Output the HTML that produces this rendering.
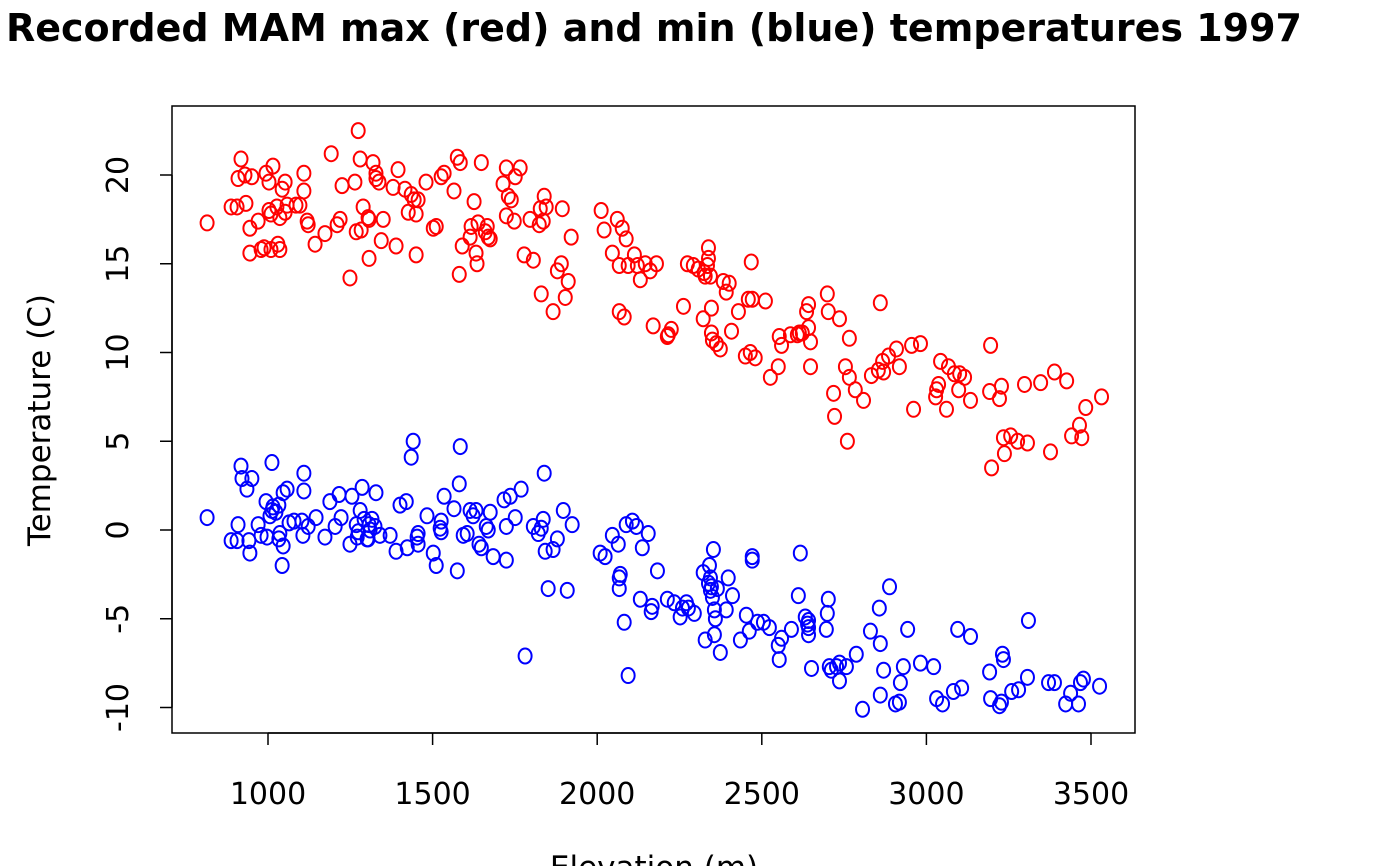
<!DOCTYPE html>
<html><head><meta charset="utf-8"><style>
html,body{margin:0;padding:0;background:#fff;overflow:hidden;}
svg{display:block;font-family:"DejaVu Sans","Liberation Sans",sans-serif;}
</style></head><body>
<svg id="chart" width="1400" height="866" viewBox="0 0 1400 866" xmlns="http://www.w3.org/2000/svg">
<text x="654" y="41" text-anchor="middle" font-size="38" font-weight="bold">Recorded MAM max (red) and min (blue) temperatures 1997</text>
<rect x="172" y="106" width="963" height="627" fill="none" stroke="#000" stroke-width="1.5"/>
<text transform="translate(50,420) rotate(-90)" text-anchor="middle" font-size="31">Temperature (C)</text>
<text x="654" y="878" text-anchor="middle" font-size="31">Elevation (m)</text>
<g id="axes"></g>
<g id="marks"></g>
</svg>
<script>
const xTicks=[1000,1500,2000,2500,3000,3500];
const yTicks=[-10,-5,0,5,10,15,20];
const maxElev=[815,888,906,918,909,930,933,945,945,951,970,979,988,994,1003,1003,1009,1009,1015,1027,1030,1036,1043,1052,1052,1036,1058,1085,1097,1109,1109,1119,1122,1143,1173,1192,1210,1219,1225,1249,1264,1268,1274,1280,1283,1289,1304,1307,1307,1319,1328,1328,1337,1344,1350,1380,1389,1395,1416,1426,1435,1444,1450,1456,1450,1480,1502,1511,1526,1535,1565,1575,1581,1584,1590,1614,1617,1626,1632,1635,1638,1648,1660,1666,1669,1675,1714,1724,1724,1730,1739,1748,1751,1766,1778,1796,1806,1824,1827,1830,1836,1839,1845,1866,1879,1891,1894,1903,1912,1921,2012,2021,2046,2061,2067,2067,2076,2082,2088,2094,2113,2122,2131,2146,2161,2170,2180,2213,2216,2225,2262,2274,2292,2307,2322,2325,2328,2335,2338,2338,2344,2347,2347,2350,2362,2374,2383,2392,2401,2408,2429,2459,2450,2465,2468,2471,2480,2511,2526,2550,2553,2560,2587,2608,2614,2623,2636,2648,2642,2642,2648,2699,2702,2718,2721,2736,2754,2760,2766,2766,2784,2809,2833,2854,2860,2867,2870,2885,2909,2918,2955,2961,2982,3031,3028,3037,3043,3061,3067,3085,3098,3101,3116,3134,3195,3192,3198,3222,3228,3237,3234,3256,3277,3298,3307,3347,3377,3389,3426,3441,3465,3472,3484,3532];
const maxTemp=[17.3,18.2,18.2,20.9,19.8,20.0,18.4,17.0,15.6,19.9,17.4,15.8,15.9,20.1,19.6,18.0,17.8,15.8,20.5,18.2,16.1,17.6,19.2,19.6,17.9,15.8,18.3,18.3,18.3,20.1,19.1,17.4,17.2,16.1,16.7,21.2,17.2,17.5,19.4,14.2,19.6,16.8,22.5,20.9,16.9,18.2,17.6,15.3,17.5,20.7,20.1,19.8,19.6,16.3,17.5,19.3,16.0,20.3,19.2,17.9,18.9,18.6,17.8,18.6,15.5,19.6,17.0,17.1,19.9,20.1,19.1,21.0,14.4,20.7,16.0,16.5,17.1,18.5,15.6,15.0,17.3,20.7,16.8,17.1,16.5,16.4,19.5,20.4,17.7,18.8,18.6,17.4,19.9,20.4,15.5,17.5,15.2,17.2,18.1,13.3,17.4,18.8,18.2,12.3,14.6,15.0,18.1,13.1,14.0,16.5,18.0,16.9,15.6,17.5,14.9,12.3,17.0,12.0,16.4,14.9,15.5,14.9,14.1,15.0,14.6,11.5,15.0,10.9,11.0,11.3,12.6,15.0,14.9,14.7,11.9,14.5,14.3,14.9,15.3,15.9,14.3,11.1,12.5,10.7,10.5,10.2,14.0,13.4,13.9,11.2,12.3,13.0,9.8,10.0,15.1,13.0,9.7,12.9,8.6,9.2,10.9,10.4,11.0,11.0,11.1,11.1,12.3,9.2,12.7,11.4,10.6,13.3,12.3,7.7,6.4,11.9,9.2,5.0,8.6,10.8,7.9,7.3,8.7,9.0,12.8,9.5,8.9,9.8,10.2,9.2,10.4,6.8,10.5,7.9,7.5,8.2,9.5,6.8,9.2,8.8,7.9,8.8,8.6,7.3,10.4,7.8,3.5,7.4,8.1,4.3,5.2,5.3,5.0,8.2,4.9,8.3,4.4,8.9,8.4,5.3,5.9,5.2,6.9,7.5];
const minElev=[815,888,906,909,918,921,936,945,942,951,970,979,994,997,1006,1012,1012,1015,1024,1033,1033,1036,1043,1046,1046,1058,1064,1079,1103,1106,1109,1109,1122,1146,1173,1188,1204,1216,1222,1249,1255,1268,1271,1274,1280,1286,1292,1301,1304,1307,1310,1316,1325,1328,1340,1371,1389,1401,1420,1423,1435,1441,1453,1456,1456,1483,1502,1511,1523,1526,1526,1535,1565,1575,1584,1581,1593,1605,1614,1623,1632,1641,1648,1663,1669,1675,1684,1717,1724,1724,1736,1751,1769,1781,1806,1821,1830,1836,1839,1842,1851,1866,1879,1897,1909,1924,2009,2024,2046,2064,2067,2067,2070,2082,2088,2094,2107,2119,2137,2131,2155,2164,2167,2183,2213,2234,2252,2259,2271,2277,2295,2322,2328,2338,2341,2344,2344,2347,2350,2353,2356,2356,2359,2365,2374,2392,2398,2411,2435,2453,2462,2471,2471,2487,2505,2523,2550,2553,2560,2590,2611,2617,2632,2639,2642,2642,2642,2651,2696,2699,2702,2705,2711,2727,2736,2736,2757,2787,2806,2830,2857,2860,2860,2870,2888,2906,2918,2921,2930,2943,2982,3022,3031,3049,3082,3095,3107,3134,3192,3195,3222,3228,3231,3234,3259,3280,3307,3310,3371,3389,3423,3438,3462,3468,3477,3526];
const minTemp=[0.7,-0.6,-0.6,0.3,3.6,2.9,2.3,-1.3,-0.6,2.9,0.3,-0.3,1.6,-0.4,0.8,3.8,1.1,1.3,1.0,1.4,-0.5,-0.2,-2.0,2.1,-0.9,2.3,0.4,0.5,0.5,-0.3,3.2,2.2,0.2,0.7,-0.4,1.6,0.2,2.0,0.7,-0.8,1.9,0.3,-0.4,-0.1,1.1,2.4,0.6,-0.5,-0.5,0.3,0.0,0.6,0.2,2.1,-0.3,-0.3,-1.2,1.4,1.6,-1.0,4.1,5.0,-0.4,-0.8,-0.2,0.8,-1.3,-2.0,0.1,-0.1,0.5,1.9,1.2,-2.3,4.7,2.6,-0.3,-0.2,1.1,0.8,1.1,-0.8,-1.0,0.2,0.0,1.0,-1.5,1.7,0.2,-1.7,1.9,0.7,2.3,-7.1,0.2,-0.2,0.1,0.6,3.2,-1.2,-3.3,-1.1,-0.5,1.1,-3.4,0.3,-1.3,-1.5,-0.3,-0.8,-2.7,-3.3,-2.5,-5.2,0.3,-8.2,0.5,0.2,-1.0,-3.9,-0.2,-4.6,-4.3,-2.3,-3.9,-4.1,-4.9,-4.4,-4.1,-4.4,-4.7,-2.4,-6.2,-3.0,-2.0,-3.4,-2.7,-3.2,-3.8,-1.1,-4.5,-5.9,-5.0,-3.3,-6.9,-4.5,-2.7,-3.7,-6.2,-4.8,-5.7,-1.5,-1.7,-5.2,-5.2,-5.5,-6.5,-7.3,-6.1,-5.6,-3.7,-1.3,-4.9,-5.3,-5.5,-5.9,-5.1,-7.8,-5.6,-4.7,-3.9,-7.7,-7.9,-7.7,-8.5,-7.5,-7.7,-7.0,-10.1,-5.7,-4.4,-6.4,-9.3,-7.9,-3.2,-9.8,-9.7,-8.6,-7.7,-5.6,-7.5,-7.7,-9.5,-9.8,-9.1,-5.6,-8.9,-6.0,-8.0,-9.5,-9.9,-9.7,-7.0,-7.3,-9.1,-9.0,-8.3,-5.1,-8.6,-8.6,-9.8,-9.2,-9.8,-8.6,-8.4,-8.8];

const NS="http://www.w3.org/2000/svg";
function xScale(v){return 268+(v-1000)*(1091-268)/2500;}
function yScale(v){return 530-v*(530-175)/20;}
const axes=document.getElementById('axes');
const marks=document.getElementById('marks');
function mk(tag,attrs,parent){const e=document.createElementNS(NS,tag);for(const k in attrs)e.setAttribute(k,attrs[k]);parent.appendChild(e);return e;}

mk('line',{x1:xScale(xTicks[0]),x2:xScale(xTicks[xTicks.length-1]),y1:733,y2:733,stroke:'#000','stroke-width':1.5},axes);
xTicks.forEach(t=>{
  const x=xScale(t);
  const l=mk('line',{x1:x,x2:x,y1:733,y2:745,stroke:'#000','stroke-width':1.5},axes);
  
  
  const tx=mk('text',{x:x,y:804,'text-anchor':'middle','font-size':'30'},axes);
  tx.textContent=t;
  
  
});
mk('line',{x1:172,x2:172,y1:yScale(yTicks[0]),y2:yScale(yTicks[yTicks.length-1]),stroke:'#000','stroke-width':1.5},axes);
yTicks.forEach(t=>{
  const y=yScale(t);
  const l=mk('line',{x1:160,x2:172,y1:y,y2:y,stroke:'#000','stroke-width':1.5},axes);
  
  
  const tx=mk('text',{transform:'translate(128,'+y+') rotate(-90)','text-anchor':'middle','font-size':'30'},axes);
  tx.textContent=t;
  
  
});
function drawSeries(el,tp,color,name){
  for(let i=0;i<el.length;i++){
    const c=mk('ellipse',{cx:xScale(el[i]),cy:yScale(tp[i]),rx:6.5,ry:7.5,fill:'none',stroke:color,'stroke-width':2},marks);
    
    
  }
}
drawSeries(maxElev,maxTemp,'#ff0000','max-temp-point');
drawSeries(minElev,minTemp,'#0000ff','min-temp-point');
</script>
</body></html>
